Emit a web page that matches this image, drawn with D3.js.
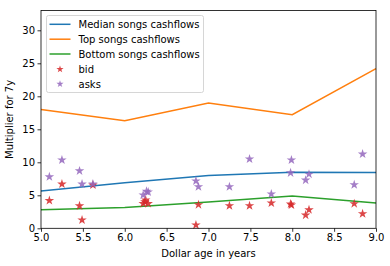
<!DOCTYPE html>
<html><head><meta charset="utf-8">
<script src="https://cdn.jsdelivr.net/npm/d3@7"></script>
<style>body{margin:0;background:#fff}svg{display:block}text{font-family:"DejaVu Sans",sans-serif}</style>
</head><body><svg id="c" width="390" height="266"></svg>
<script>
const lineX = [5, 6, 7, 8, 9];
const medianVals = [5.65, 6.9, 8.0, 8.5, 8.45];
const topVals = [18.0, 16.3, 19.0, 17.2, 24.2];
const bottomVals = [2.8, 3.15, 4.0, 4.9, 3.85];
const bidX = [5.10, 5.25, 5.46, 5.49, 5.62, 6.22, 6.25, 6.28, 6.24, 6.85, 6.88, 7.25, 7.49, 7.75, 7.98, 7.99, 8.16, 8.20, 8.74, 8.84];
const bidY = [4.2, 6.7, 3.4, 1.26, 6.55, 3.75, 4.3, 3.75, 4.0, 0.5, 3.58, 3.42, 3.42, 3.83, 3.68, 3.53, 2.0, 2.8, 3.73, 2.2];
const askX = [5.10, 5.25, 5.46, 5.49, 5.62, 6.22, 6.26, 6.28, 6.85, 6.88, 7.25, 7.49, 7.75, 7.99, 7.98, 8.16, 8.20, 8.74, 8.84];
const askY = [7.8, 10.35, 8.7, 6.7, 6.7, 5.05, 5.6, 5.5, 7.17, 6.3, 6.3, 10.5, 5.2, 10.35, 8.4, 7.3, 8.2, 6.6, 11.25];
const xTicks = [5.0, 5.5, 6.0, 6.5, 7.0, 7.5, 8.0, 8.5, 9.0];
const yTicks = [0, 5, 10, 15, 20, 25, 30];
const seriesNames = ["Median songs cashflows", "Top songs cashflows", "Bottom songs cashflows", "bid", "asks"];

const svg = d3.select("#c");
const L = 41, R = 376, T = 10.5, B = 228.3;
const x = d3.scaleLinear().domain([5, 9]).range([L, R]);
const y = d3.scaleLinear().domain([0, 33]).range([B, T]);

const g = svg.append("g");
const line = d3.line().x((d, i) => x(lineX[i])).y(d => y(d));
const lines = [[medianVals, "#1f77b4"], [topVals, "#ff7f0e"], [bottomVals, "#2ca02c"]];
lines.forEach(([v, c]) => {
  g.append("path").datum(v).attr("d", line).attr("fill", "none").attr("stroke", c).attr("stroke-width", 1.5);
});
const star = d3.symbol().type(d3.symbolStar).size(28);
const starSmall = d3.symbol().type(d3.symbolStar).size(16);
bidX.forEach((xv, i) => {
  g.append("path").attr("d", star).attr("transform", `translate(${x(xv)},${y(bidY[i])})`)
    .attr("fill", "#d62728").attr("fill-opacity", 0.85);
});
askX.forEach((xv, i) => {
  g.append("path").attr("d", star).attr("transform", `translate(${x(xv)},${y(askY[i])})`)
    .attr("fill", "#9467bd").attr("fill-opacity", 0.85);
});

const xa = svg.append("g").attr("transform", `translate(0,${B})`)
  .call(d3.axisBottom(x).tickValues(xTicks).tickFormat(d3.format(".1f")).tickSizeOuter(0).tickSize(3.5));
const ya = svg.append("g").attr("transform", `translate(${L},0)`)
  .call(d3.axisLeft(y).tickValues(yTicks).tickSizeOuter(0).tickSize(3.5));
[xa, ya].forEach(a => {
  a.select(".domain").remove();
  a.selectAll("text").attr("font-size", 10).attr("fill", "#000").attr("font-family", "DejaVu Sans");
  a.selectAll("line").attr("stroke", "#000").attr("stroke-width", 0.8);
});
xa.selectAll("text").attr("dy", "0.71em").attr("y", 6);
ya.selectAll("text").attr("x", -6);
svg.append("rect").attr("x", L).attr("y", T).attr("width", R - L).attr("height", B - T)
  .attr("fill", "none").attr("stroke", "#000").attr("stroke-width", 0.8);

svg.append("text").attr("x", (L + R) / 2).attr("y", 257).attr("text-anchor", "middle").attr("font-size", 10).text("Dollar age in years");
svg.append("text").attr("transform", `translate(13,${(T + B) / 2}) rotate(-90)`).attr("text-anchor", "middle").attr("font-size", 10).text("Multiplier for 7y");

const lg = svg.append("g");
lg.append("rect").attr("x", 46.5).attr("y", 15.5).attr("width", 157).attr("height", 77).attr("rx", 2)
  .attr("fill", "#fff").attr("fill-opacity", 0.8).attr("stroke", "#ccc").attr("stroke-width", 0.8);
const rowY = [24.3, 39.2, 54, 69.2, 84];
const colors = ["#1f77b4", "#ff7f0e", "#2ca02c", "#d62728", "#9467bd"];
seriesNames.forEach((n, i) => {
  if (i < 3) {
    lg.append("line").attr("x1", 49.5).attr("x2", 70.5).attr("y1", rowY[i]).attr("y2", rowY[i]).attr("stroke", colors[i]).attr("stroke-width", 1.5);
  } else {
    lg.append("path").attr("d", starSmall).attr("transform", `translate(60,${rowY[i]})`).attr("fill", colors[i]).attr("fill-opacity", 0.85);
  }
  lg.append("text").attr("x", 78.5).attr("y", rowY[i]).attr("dy", "0.35em").attr("font-size", 10).text(n);
});
</script></body></html>
